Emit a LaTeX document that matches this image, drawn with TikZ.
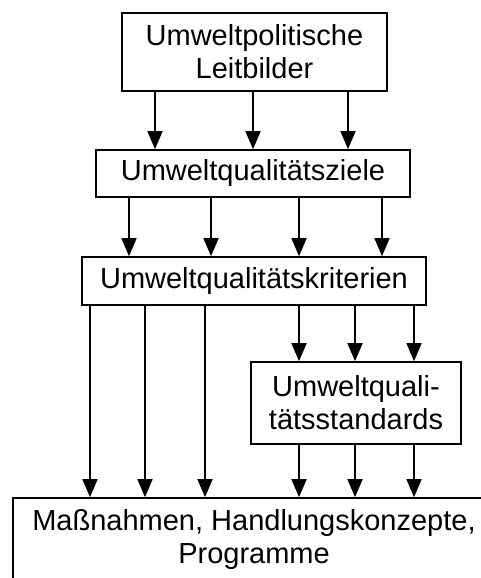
\documentclass[tikz,border=0pt]{standalone}
\usepackage{fontspec}
\setmainfont{Liberation Sans}
\usetikzlibrary{arrows.meta}
\tikzset{kasten/.style={draw, line width=1.6pt, inner sep=0pt, align=center, font=\fontsize{29}{33}\selectfont},
pfeil/.style={line width=1.5pt, -{Triangle[length=18pt,width=15pt]}}}

\begin{document}
\begin{tikzpicture}[x=1pt,y=-1pt]
\useasboundingbox (0,0) rectangle (481,578);
\clip (0,0) rectangle (481,578);
\node [kasten, minimum width=265pt, minimum height=78pt] (leitbild) at (254.5,52) {Umweltpolitische\\Leitbilder};
\node [kasten, minimum width=314pt, minimum height=47pt] (ziele) at (253,173.5) {Umweltqualitätsziele};
\node [kasten, minimum width=344pt, minimum height=48pt] (krit) at (254,281) {Umweltqualitätskriterien};
\node [kasten, minimum width=210pt, minimum height=82pt] (stand) at (356,403) {Umweltquali-\\tätsstandards};
\node [kasten, minimum width=482pt, minimum height=82pt] (mass) at (254,539) {Maßnahmen, Handlungskonzepte,\\Programme};
\foreach \x in {155,253,348} \draw [pfeil] (leitbild.south -| \x,0) -- (ziele.north -| \x,0);
\foreach \x in {129,211,299,382} \draw [pfeil] (ziele.south -| \x,0) -- (krit.north -| \x,0);
\foreach \x in {90,145,205} \draw [pfeil] (krit.south -| \x,0) -- (mass.north -| \x,0);
\foreach \x in {299,355,414} \draw [pfeil] (krit.south -| \x,0) -- (stand.north -| \x,0);
\foreach \x in {299,355,414} \draw [pfeil] (stand.south -| \x,0) -- (mass.north -| \x,0);
\end{tikzpicture}
\end{document}
